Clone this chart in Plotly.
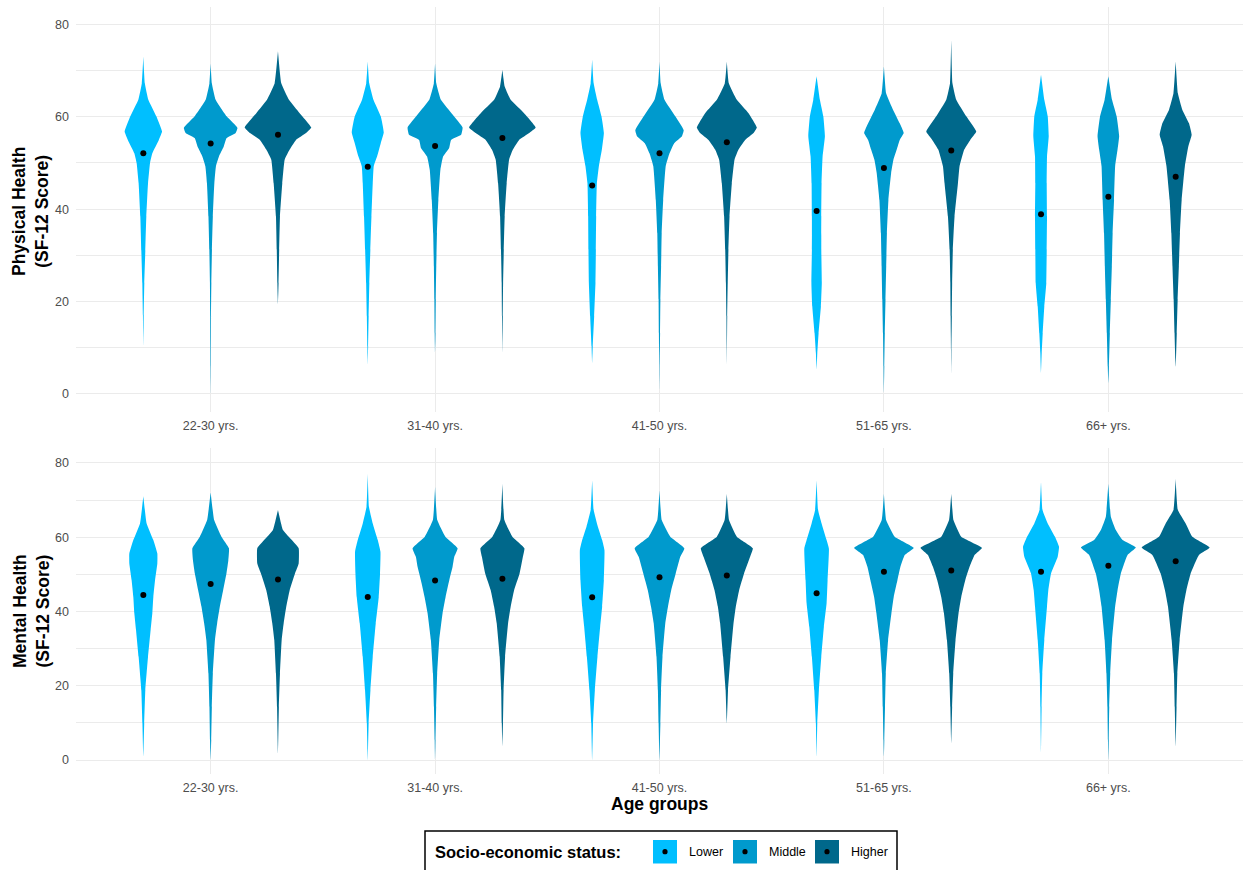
import plotly.graph_objects as go

# ---------------- data ----------------
AGE_GROUPS = ["22-30 yrs.", "31-40 yrs.", "41-50 yrs.", "51-65 yrs.", "66+ yrs."]
SES = ["Lower", "Middle", "Higher"]
COLORS = ["#00BFFF", "#009ACD", "#00688B"]

# Density profiles: score levels (Y) and relative density half-widths (W), per age group
PHYS_LOWER_Y = [
    [10.3, 17, 24, 31, 38.4, 45.6, 50, 52.1, 55, 56.8, 60.1, 63.7, 67.3, 73.1],
    [6.3, 10.3, 16.8, 24, 31.2, 38.4, 45.6, 49.3, 51.4, 54.3, 56.6, 60.1, 63.7, 67.3, 72.0],
    [6.6, 10.3, 16.8, 24, 31.2, 38.4, 45.6, 49.3, 52.9, 56.5, 60.1, 63.7, 67.3, 72.4],
    [5.2, 8.8, 13.1, 18.9, 24, 31.2, 38.4, 45.6, 51.4, 55.8, 60.1, 63.7, 68.8],
    [4.5, 8.8, 13.1, 18.9, 24, 31.2, 38.4, 45.6, 51.4, 55.8, 60.1, 63.7, 69.1],
]
PHYS_LOWER_W = [
    [0, 0.4, 1.0, 2.0, 3.0, 4.7, 6.7, 9, 15.5, 18.7, 13, 5, 1.5, 0],
    [0, 0.4, 0.9, 1.6, 2.6, 3.7, 5, 6, 9.3, 13, 16, 13, 5.7, 1.5, 0],
    [0, 0.6, 2, 3.3, 3.7, 4, 4.7, 6.7, 9.7, 11.7, 9.3, 5, 1.5, 0],
    [0, 0.7, 2, 4.3, 5.2, 4.7, 4.7, 5, 6, 8.3, 6.7, 3.3, 0],
    [0, 0.7, 1.7, 3.3, 5.3, 5.7, 6, 5.7, 6, 7.7, 6.7, 3.3, 0],
]
PHYS_MIDDLE_Y = [
    [0, 5.9, 16.8, 24, 31.2, 38.4, 45.6, 49.3, 51.4, 53.5, 55.4, 56.5, 57.6, 60.1, 63.7, 67.3, 71.6],
    [8.8, 13.1, 20.4, 27.6, 34.8, 42, 48.5, 51.4, 53.2, 55, 56.1, 57.7, 60.5, 63.7, 67.3, 71.6],
    [0.9, 5.9, 13.1, 20.4, 27.6, 34.8, 42, 49.3, 52.1, 54.3, 55.8, 57.1, 60.1, 63.7, 67.3, 72],
    [0.1, 5.9, 13.1, 20.4, 27.6, 34.8, 42, 47.8, 50.7, 52.9, 55, 56.5, 58.6, 61.5, 65.1, 70.9],
    [2.3, 5.9, 13.1, 20.4, 27.6, 34.8, 42, 49.3, 52.9, 55.8, 60.1, 63.7, 68.8],
]
PHYS_MIDDLE_W = [
    [0, 0.2, 0.4, 0.7, 1.3, 2.2, 3.7, 5.3, 8.3, 13, 16, 25, 26.8, 16, 5, 1.2, 0],
    [0, 0.4, 0.7, 1.2, 1.9, 3.3, 5.3, 8, 14, 16, 26, 27.5, 17.5, 5.8, 1.2, 0],
    [0, 0.2, 0.6, 0.9, 1.6, 2.2, 3.7, 6.2, 10, 14.7, 22.5, 24.2, 15.8, 5, 1.2, 0],
    [0, 0.4, 0.9, 1.6, 2.3, 3, 4.5, 7.2, 9.5, 12.8, 15.8, 19.8, 15.8, 9.2, 2.2, 0],
    [0, 0.6, 1.5, 2.5, 3.5, 4.3, 5.7, 6.8, 9.2, 10.8, 8.3, 3.7, 0],
]
PHYS_HIGHER_Y = [
    [19.3, 24, 31.2, 38.4, 45.6, 50.7, 52.9, 55, 56.5, 57.7, 60.8, 63.7, 67.3, 74.2],
    [8.8, 16.8, 24, 31.2, 38.4, 45.6, 50.7, 52.9, 55, 56.5, 57.7, 60.8, 63.7, 66.6, 70.2],
    [6.3, 16.8, 24, 31.2, 38.4, 45.6, 50.7, 52.9, 55, 56.5, 57.7, 60.8, 63.7, 67.3, 72],
    [4.5, 9.5, 16.8, 24, 31.2, 38.4, 45.6, 49.3, 52.9, 55, 56.8, 60.1, 63.7, 67.3, 76.7],
    [5.9, 13.1, 20.4, 27.6, 34.8, 42, 49.3, 53.6, 56.1, 58.6, 61.5, 65.1, 72],
]
PHYS_HIGHER_W = [
    [0, 0.6, 1.2, 2, 4.3, 6.7, 11.7, 18, 28, 33.3, 21.7, 11, 3.3, 0],
    [0, 0.4, 0.7, 1.4, 2.3, 4.3, 6.7, 10.5, 16.7, 26.7, 33.3, 21.7, 8.3, 2.3, 0],
    [0, 0.4, 0.9, 1.6, 2.7, 5, 7.7, 11.7, 18.3, 26.7, 30, 21.7, 10, 2, 0],
    [0, 0.2, 0.6, 0.9, 1.6, 3.3, 6.7, 8.3, 13, 19, 25, 15, 5, 1.2, 0],
    [0, 1.1, 2, 3.2, 4.3, 6, 9.2, 12.7, 16, 13.3, 6.7, 2.2, 0],
]

MENT_LOWER_Y = [
    [0.9, 9.9, 18.8, 27.8, 35, 39.5, 43.9, 48.4, 52.9, 55.6, 59.2, 63.7, 71],
    [0, 9.9, 18.8, 27.8, 36.8, 43.9, 50.2, 56.1, 59.2, 63.7, 68.2, 77.1],
    [0, 9.9, 18.8, 27.8, 35.9, 41.3, 48.4, 56.5, 59.2, 62.8, 67.3, 75.3],
    [0.9, 9.9, 18.8, 27.8, 35.9, 42.2, 48.4, 56.9, 59.2, 63.7, 67.3, 75.3],
    [1.8, 14.3, 23.3, 32.3, 41.3, 45.7, 50.2, 54.7, 57.4, 60.1, 63.7, 67.3, 74.9],
]
MENT_LOWER_W = [
    [0, 0.9, 2, 4.7, 7.3, 9, 10, 11.7, 14, 14, 10, 3.3, 0],
    [0, 0.9, 2.7, 5, 8, 11, 12.3, 12.7, 10, 5, 1.2, 0],
    [0, 0.9, 2.7, 5.3, 8, 10, 11.7, 12.3, 10, 5.7, 1.5, 0],
    [0, 0.7, 2.3, 4.7, 7.3, 10, 11, 12.3, 10, 5, 1.5, 0],
    [0, 0.6, 1.3, 3.3, 6, 7.3, 10, 16.7, 18, 14, 6.7, 1.5, 0],
]
MENT_MIDDLE_Y = [
    [0, 5.4, 14.3, 23.3, 32.3, 36.8, 41.3, 45.7, 50.2, 53.8, 57, 60.1, 64.6, 72],
    [0, 5.4, 14.3, 23.3, 32.3, 39.5, 43.9, 48.4, 52, 54.7, 57, 60.1, 64.6, 73.5],
    [0, 9.9, 18.8, 27.8, 36.8, 41.3, 45.7, 50.2, 54.7, 57, 60.1, 64.6, 72.6],
    [0.9, 5.4, 14.3, 23.3, 32.3, 39.5, 43.9, 48.4, 52, 55.2, 57.1, 60.1, 64.6, 71.7],
    [0, 5.4, 14.3, 23.3, 32.3, 41.3, 45.7, 50.2, 55.2, 57.2, 59.2, 61.9, 65.5, 74.4],
]
MENT_MIDDLE_W = [
    [0, 0.6, 1.2, 2.2, 4.3, 6.5, 9.2, 12.5, 15.8, 17.7, 18.3, 10.8, 3.5, 0],
    [0, 0.4, 1.1, 2.1, 4.2, 7.5, 10.5, 14.2, 17.5, 19.2, 22.5, 10.3, 2.2, 0],
    [0, 0.9, 1.6, 3, 5.8, 8.5, 11.7, 16.2, 20.8, 24.8, 10.8, 2.2, 0],
    [0, 0.4, 1.1, 1.9, 4.2, 7.5, 9.8, 13.5, 16.5, 20.8, 29.8, 10.8, 2.2, 0],
    [0, 0.4, 0.9, 1.9, 3.7, 6.8, 9.2, 12.5, 19.2, 27.5, 14.2, 7.5, 2.5, 0],
]
MENT_HIGHER_Y = [
    [1.8, 14.3, 23.3, 32.3, 36.8, 41.3, 45.7, 50.2, 52.9, 57, 59.2, 61.9, 67.3],
    [3.6, 9.9, 18.8, 27.8, 36.8, 41.3, 45.7, 50.2, 54.7, 57, 60.1, 64.6, 74.4],
    [9.9, 18.8, 27.8, 36.8, 41.3, 45.7, 50.2, 54.7, 57, 60.1, 64.6, 71.7],
    [4.5, 14.3, 23.3, 32.3, 39.5, 43.9, 48.4, 52, 55.2, 57.1, 60.1, 64.6, 71.7],
    [3.6, 14.3, 23.3, 32.3, 41.3, 45.7, 50.2, 55.2, 57.2, 60.1, 63.7, 67.3, 75.8],
]
MENT_HIGHER_W = [
    [0, 0.9, 2, 3.7, 5.7, 8.3, 11.7, 17, 20.7, 20.7, 13.8, 5, 0],
    [0, 0.6, 1.2, 2.7, 5.7, 8.3, 11.7, 17.2, 20.5, 22, 10, 2, 0],
    [0, 1.2, 3.7, 6.7, 9, 12.3, 17.2, 23.3, 26, 10, 2.2, 0],
    [0, 0.9, 2, 4.3, 7.3, 10, 14, 18.3, 23.3, 30.7, 10, 2.2, 0],
    [0, 0.9, 1.7, 4, 7.7, 10.7, 15, 23.3, 34, 16.7, 10, 2.2, 0],
]

PHYS_MEANS_LOWER = [52.1, 49.2, 45.1, 39.6, 38.9]
PHYS_MEANS_MIDDLE = [54.2, 53.7, 52.1, 48.9, 42.7]
PHYS_MEANS_HIGHER = [56.1, 55.4, 54.5, 52.7, 47.0]
MENT_MEANS_LOWER = [44.4, 43.9, 43.8, 44.9, 50.7]
MENT_MEANS_MIDDLE = [47.4, 48.3, 49.2, 50.7, 52.3]
MENT_MEANS_HIGHER = [48.6, 48.8, 49.7, 51.0, 53.5]

# ---------------- layout helpers ----------------
W, H = 1243, 870
ML = 76
PW = W - ML
X_RANGE = [-0.6, 4.6]
DENS_SCALE = (X_RANGE[1] - X_RANGE[0]) / PW   # density unit -> x units
DODGE = [-0.3, 0.0, 0.3]
FONT = "Liberation Sans, Arial, sans-serif"


def px_x(px):
    return (px - ML) / PW


def px_y(py):
    return (H - py) / H


panels = [
    ("x", "y", [(PHYS_LOWER_Y, PHYS_LOWER_W, PHYS_MEANS_LOWER),
                (PHYS_MIDDLE_Y, PHYS_MIDDLE_W, PHYS_MEANS_MIDDLE),
                (PHYS_HIGHER_Y, PHYS_HIGHER_W, PHYS_MEANS_HIGHER)]),
    ("x2", "y2", [(MENT_LOWER_Y, MENT_LOWER_W, MENT_MEANS_LOWER),
                  (MENT_MIDDLE_Y, MENT_MIDDLE_W, MENT_MEANS_MIDDLE),
                  (MENT_HIGHER_Y, MENT_HIGHER_W, MENT_MEANS_HIGHER)]),
]

fig = go.Figure()
for xa, ya, groups in panels:
    for s, (ylists, wlists, means) in enumerate(groups):
        for i in range(len(AGE_GROUPS)):
            pos = i + DODGE[s]
            ys = ylists[i]
            hw = [w * DENS_SCALE for w in wlists[i]]
            xs = [pos - h for h in hw] + [pos + h for h in reversed(hw)]
            yy = list(ys) + list(reversed(ys))
            fig.add_trace(go.Scatter(
                x=xs, y=yy, xaxis=xa, yaxis=ya, mode="lines", fill="toself",
                fillcolor=COLORS[s], line=dict(width=0, shape="spline", smoothing=0.35),
                showlegend=False, hoverinfo="skip"))
        fig.add_trace(go.Scatter(
            x=[i + DODGE[s] for i in range(len(AGE_GROUPS))], y=means,
            xaxis=xa, yaxis=ya, mode="markers",
            marker=dict(color="black", size=6), showlegend=False,
            name=SES[s]))

axis_common = dict(
    showgrid=True, gridcolor="#EBEBEB", gridwidth=1.1, zeroline=False,
    showline=False, ticks="", tickfont=dict(family=FONT, size=12.5, color="#4D4D4D"),
)
fig.update_layout(
    width=W, height=H,
    margin=dict(l=ML, r=0, t=0, b=0),
    plot_bgcolor="white", paper_bgcolor="white",
    font=dict(family=FONT),
    showlegend=False,
    xaxis=dict(domain=[0, 1], anchor="y", range=X_RANGE, tickvals=list(range(5)),
               ticktext=AGE_GROUPS, ticklabelstandoff=4, **axis_common),
    xaxis2=dict(domain=[0, 1], anchor="y2", range=X_RANGE, tickvals=list(range(5)),
                ticktext=AGE_GROUPS, ticklabelstandoff=4, **axis_common),
    yaxis=dict(domain=[px_y(412), px_y(7)], anchor="x", range=[-3.96, 83.8],
               tickvals=[0, 20, 40, 60, 80], ticklabelstandoff=6,
               minor=dict(dtick=10, showgrid=True, gridcolor="#EBEBEB", gridwidth=0.6),
               **axis_common),
    yaxis2=dict(domain=[px_y(774), px_y(448)], anchor="x2", range=[-3.77, 84.0],
                tickvals=[0, 20, 40, 60, 80], ticklabelstandoff=6,
                minor=dict(dtick=10, showgrid=True, gridcolor="#EBEBEB", gridwidth=0.6),
                **axis_common),
)

ann = []
ann.append(dict(text="<b>Physical Health<br>(SF-12 Score)</b>", x=px_x(31), y=px_y(212),
                xref="paper", yref="paper", textangle=-90, showarrow=False,
                xanchor="center", yanchor="middle",
                font=dict(family=FONT, size=17.5, color="black")))
ann.append(dict(text="<b>Mental Health<br>(SF-12 Score)</b>", x=px_x(31), y=px_y(611),
                xref="paper", yref="paper", textangle=-90, showarrow=False,
                xanchor="center", yanchor="middle",
                font=dict(family=FONT, size=17.5, color="black")))
ann.append(dict(text="<b>Age groups</b>", x=0.5, y=px_y(804), xref="paper", yref="paper",
                showarrow=False, xanchor="center", yanchor="middle",
                font=dict(family=FONT, size=17.5, color="black")))

# manual legend
shapes = [dict(type="rect", xref="paper", yref="paper", x0=px_x(425), x1=px_x(897),
               y0=px_y(885), y1=px_y(831), line=dict(color="black", width=1.5),
               fillcolor="white", layer="above")]
ann.append(dict(text="<b>Socio-economic status:</b>", x=px_x(433), y=px_y(852),
                xref="paper", yref="paper", showarrow=False, xanchor="left",
                yanchor="middle", font=dict(family=FONT, size=16.5, color="black")))
sq_left = [653, 733, 815]
lab_left = [687, 767, 849]
for s in range(3):
    shapes.append(dict(type="rect", xref="paper", yref="paper",
                       x0=px_x(sq_left[s]), x1=px_x(sq_left[s] + 24),
                       y0=px_y(863.5), y1=px_y(840), line=dict(width=0),
                       fillcolor=COLORS[s], layer="above"))
    cx, cy = sq_left[s] + 12, 851.7
    shapes.append(dict(type="circle", xref="paper", yref="paper",
                       x0=px_x(cx - 2.6), x1=px_x(cx + 2.6),
                       y0=px_y(cy + 2.6), y1=px_y(cy - 2.6),
                       line=dict(width=0), fillcolor="black", layer="above"))
    ann.append(dict(text=SES[s], x=px_x(lab_left[s]), y=px_y(852), xref="paper",
                    yref="paper", showarrow=False, xanchor="left", yanchor="middle",
                    font=dict(family=FONT, size=12.5, color="black")))

fig.update_layout(annotations=ann, shapes=shapes)
fig.write_html("out.html")
